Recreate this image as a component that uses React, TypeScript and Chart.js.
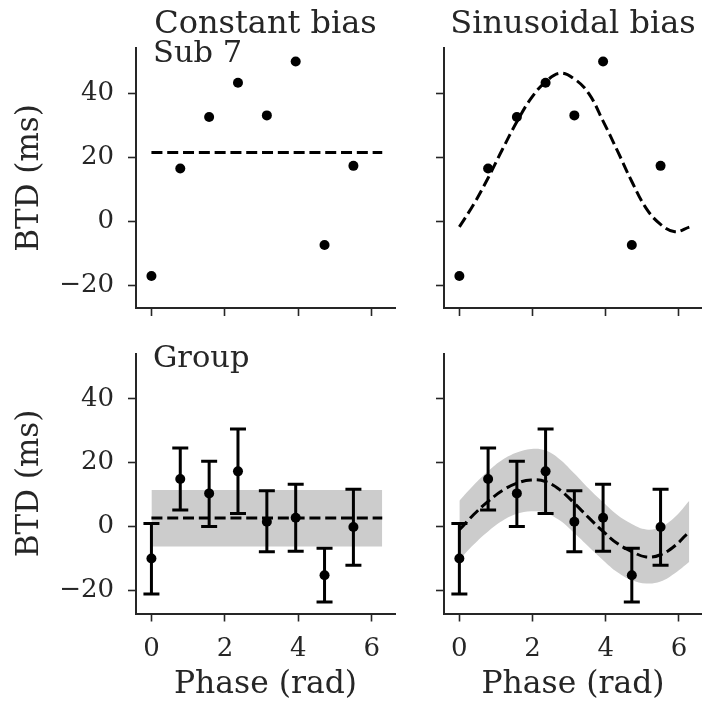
import React, { useEffect, useRef } from 'react';
import { Chart, registerables } from 'chart.js';

Chart.register(...registerables);

const FONT = '"DejaVu Serif", serif';
const TEXT = '#262626';

// Measured phases (rad) and BTD values (ms)
const phases = [0, 0.785, 1.571, 2.356, 3.142, 3.927, 4.712, 5.498];
const sub7Btd = [-17.2, 16.5, 32.6, 43.3, 33.1, 50.0, -7.5, 17.3];
const groupBtd = [-10.0, 14.9, 10.4, 17.3, 1.5, 2.8, -15.2, -0.1];
const groupErrHigh = [1.0, 24.6, 20.5, 30.6, 11.2, 13.3, -6.8, 11.7];
const groupErrLow = [-21.1, 5.2, 0.0, 4.1, -7.9, -7.7, -23.6, -12.1];

// Constant-bias fits
const constFitX = [0, 6.283];
const sub7ConstFit = [21.5, 21.5];
const groupConstFit = [2.7, 2.7];
const groupConstHigh = [11.5, 11.5];
const groupConstLow = [-6.2, -6.2];

// Sinusoidal-bias fits
const sineFitX = [0, 0.393, 0.785, 1.178, 1.571, 1.963, 2.356, 2.749, 3.142, 3.534, 3.927, 4.32, 4.712, 5.105, 5.498, 5.89, 6.283];
const sub7SineFit = [-1.8, 5.3, 13.5, 22.5, 31.1, 38.5, 43.6, 46.3, 44.5, 40.0, 31.3, 22.0, 12.4, 4.0, -1.0, -3.3, -1.9];
const groupSineFit = [-1.0, 3.8, 7.9, 11.3, 13.6, 14.6, 14.1, 11.5, 7.3, 2.8, -1.5, -5.3, -7.8, -9.5, -8.8, -6.0, -1.5];
const groupSineHigh = [8.1, 13.0, 17.3, 20.9, 23.2, 24.3, 23.8, 21.0, 16.6, 11.9, 7.6, 3.6, 0.8, -0.9, -0.2, 3.0, 8.1];
const groupSineLow = [-10.4, -5.6, -1.5, 1.8, 4.0, 4.8, 4.3, 1.9, -2.0, -6.3, -10.5, -14.3, -16.8, -17.8, -17.2, -14.6, -11.0];

const xTicks = [0, 2, 4, 6];
const xTickLabels = ['0', '2', '4', '6'];
const yTicks = [-20, 0, 20, 40];
const yTickLabels = ['\u221220', '0', '20', '40'];
const xRange = [-0.42, 6.63];
const yRange = [-27.2, 54.2];

const columnTitles = ['Constant bias', 'Sinusoidal bias'];
const rowLabels = ['Sub 7', 'Group'];
const xAxisLabel = 'Phase (rad)';
const yAxisLabel = 'BTD (ms)';

type PanelSpec = {
  key: string;
  left: number;
  top: number;
  width: number;
  height: number;
  pad: { left: number; top: number; right: number; bottom: number };
  yWidth: number;
  xHeight: number;
  showXLabels: boolean;
  showYLabels: boolean;
  title?: string;
  label?: string;
  pointsY: number[];
  errLow?: number[];
  errHigh?: number[];
  fitX: number[];
  fitY: number[];
  bandHigh?: number[];
  bandLow?: number[];
  tension: number;
};

const specs: PanelSpec[] = [
  {
    key: 'tl', left: 0, top: 0, width: 400, height: 330,
    pad: { left: 0, top: 48, right: 1, bottom: 0 }, yWidth: 136, xHeight: 22,
    showXLabels: false, showYLabels: true, title: columnTitles[0], label: rowLabels[0],
    pointsY: sub7Btd, fitX: constFitX, fitY: sub7ConstFit, tension: 0,
  },
  {
    key: 'tr', left: 400, top: 0, width: 307, height: 330,
    pad: { left: 0, top: 48, right: 0, bottom: 0 }, yWidth: 44, xHeight: 22,
    showXLabels: false, showYLabels: false, title: columnTitles[1],
    pointsY: sub7Btd, fitX: sineFitX, fitY: sub7SineFit, tension: 0.4,
  },
  {
    key: 'bl', left: 0, top: 330, width: 400, height: 374,
    pad: { left: 0, top: 23.5, right: 1, bottom: 0 }, yWidth: 136, xHeight: 90.5,
    showXLabels: true, showYLabels: true, label: rowLabels[1],
    pointsY: groupBtd, errLow: groupErrLow, errHigh: groupErrHigh,
    fitX: constFitX, fitY: groupConstFit, bandHigh: groupConstHigh, bandLow: groupConstLow, tension: 0,
  },
  {
    key: 'br', left: 400, top: 330, width: 307, height: 374,
    pad: { left: 0, top: 23.5, right: 0, bottom: 0 }, yWidth: 44, xHeight: 90.5,
    showXLabels: true, showYLabels: false,
    pointsY: groupBtd, errLow: groupErrLow, errHigh: groupErrHigh,
    fitX: sineFitX, fitY: groupSineFit, bandHigh: groupSineHigh, bandLow: groupSineLow, tension: 0.4,
  },
];

function xy(xs: number[], ys: number[]) {
  return xs.map((x, i) => ({ x, y: ys[i] }));
}

function buildConfig(s: PanelSpec): any {
  const datasets: any[] = [
    {
      label: 'data',
      data: xy(phases, s.pointsY),
      showLine: false,
      pointRadius: 5,
      pointHoverRadius: 5,
      pointBackgroundColor: '#000',
      pointBorderColor: '#000',
      pointBorderWidth: 0,
      order: 1,
    },
    {
      label: 'fit',
      data: xy(s.fitX, s.fitY),
      showLine: true,
      pointRadius: 0,
      borderColor: '#000',
      borderWidth: 3,
      borderDash: [11, 4.8],
      tension: s.tension,
      fill: false,
      order: 2,
    },
  ];
  if (s.bandHigh && s.bandLow) {
    datasets.push({
      label: 'bandHigh',
      data: xy(s.fitX, s.bandHigh),
      showLine: true,
      pointRadius: 0,
      borderWidth: 0,
      borderColor: 'rgba(0,0,0,0)',
      backgroundColor: '#cccccc',
      fill: '+1',
      tension: s.tension,
      order: 4,
    });
    datasets.push({
      label: 'bandLow',
      data: xy(s.fitX, s.bandLow),
      showLine: true,
      pointRadius: 0,
      borderWidth: 0,
      borderColor: 'rgba(0,0,0,0)',
      fill: false,
      tension: s.tension,
      order: 3,
    });
  }

  const panelPlugin = {
    id: 'panelDecor',
    beforeDatasetDraw(chart: any, args: any) {
      if (args.index !== 0 || !s.errLow || !s.errHigh) return;
      const { ctx } = chart;
      const xs = chart.scales.x;
      const ys = chart.scales.y;
      ctx.save();
      ctx.strokeStyle = '#000';
      ctx.lineWidth = 3;
      ctx.lineCap = 'butt';
      for (let i = 0; i < phases.length; i++) {
        const px = xs.getPixelForValue(phases[i]);
        const lo = ys.getPixelForValue(s.errLow[i]);
        const hi = ys.getPixelForValue(s.errHigh[i]);
        ctx.beginPath();
        ctx.moveTo(px, lo);
        ctx.lineTo(px, hi);
        ctx.moveTo(px - 8, lo);
        ctx.lineTo(px + 8, lo);
        ctx.moveTo(px - 8, hi);
        ctx.lineTo(px + 8, hi);
        ctx.stroke();
      }
      ctx.restore();
    },
    afterDraw(chart: any) {
      const { ctx, chartArea } = chart;
      ctx.save();
      ctx.fillStyle = TEXT;
      ctx.textBaseline = 'alphabetic';
      if (s.title) {
        ctx.font = `32px ${FONT}`;
        ctx.textAlign = 'center';
        ctx.fillText(s.title, (chartArea.left + chartArea.right) / 2, 33.3);
      }
      if (s.label) {
        ctx.font = `30.5px ${FONT}`;
        ctx.textAlign = 'left';
        ctx.fillText(s.label, chartArea.left + 17, chartArea.top + 13.5);
      }
      ctx.restore();
    },
  };

  return {
    type: 'scatter',
    data: { datasets },
    plugins: [panelPlugin],
    options: {
      animation: false,
      responsive: false,
      maintainAspectRatio: false,
      devicePixelRatio: 1,
      events: [],
      layout: { padding: s.pad },
      plugins: {
        legend: { display: false },
        tooltip: { enabled: false },
        title: { display: false },
      },
      scales: {
        x: {
          type: 'linear',
          position: 'bottom',
          min: xRange[0],
          max: xRange[1],
          afterBuildTicks: (sc: any) => {
            sc.ticks = xTicks.map((v) => ({ value: v }));
          },
          afterFit: (sc: any) => {
            sc.height = s.xHeight;
            sc.paddingLeft = 0;
            sc.paddingRight = 0;
            sc.paddingTop = 0;
            sc.paddingBottom = 0;
          },
          ticks: {
            autoSkip: false,
            maxRotation: 0,
            minRotation: 0,
            padding: 12,
            color: TEXT,
            font: { family: FONT, size: 26 },
            callback: (_v: any, i: number) => (s.showXLabels ? xTickLabels[i] : ''),
          },
          grid: {
            display: true,
            drawOnChartArea: false,
            drawTicks: true,
            tickLength: 8,
            tickWidth: 1.6,
            tickColor: TEXT,
            color: TEXT,
          },
          border: { display: true, color: TEXT, width: 2 },
          title: {
            display: s.showXLabels,
            text: xAxisLabel,
            color: TEXT,
            font: { family: FONT, size: 31.4 },
            padding: { top: 0, bottom: 0 },
          },
        },
        y: {
          type: 'linear',
          position: 'left',
          min: yRange[0],
          max: yRange[1],
          afterBuildTicks: (sc: any) => {
            sc.ticks = yTicks.map((v) => ({ value: v }));
          },
          afterFit: (sc: any) => {
            sc.width = s.yWidth;
            sc.paddingLeft = 0;
            sc.paddingRight = 0;
            sc.paddingTop = 0;
            sc.paddingBottom = 0;
          },
          ticks: {
            autoSkip: false,
            padding: 14,
            color: TEXT,
            font: { family: FONT, size: 26 },
            callback: (_v: any, i: number) => (s.showYLabels ? yTickLabels[i] : ''),
          },
          grid: {
            display: true,
            drawOnChartArea: false,
            drawTicks: true,
            tickLength: 8,
            tickWidth: 1.6,
            tickColor: TEXT,
            color: TEXT,
          },
          border: { display: true, color: TEXT, width: 2 },
          title: {
            display: s.showYLabels,
            text: yAxisLabel,
            color: TEXT,
            font: { family: FONT, size: 31 },
            padding: { top: 11, bottom: 0 },
          },
        },
      },
    },
  };
}

function Panel({ spec }: { spec: PanelSpec }) {
  const ref = useRef<HTMLCanvasElement | null>(null);
  useEffect(() => {
    if (!ref.current) return;
    const chart = new Chart(ref.current, buildConfig(spec));
    return () => chart.destroy();
  }, [spec]);
  return (
    <canvas
      ref={ref}
      width={spec.width}
      height={spec.height}
      style={{
        position: 'absolute',
        left: spec.left,
        top: spec.top,
        width: spec.width,
        height: spec.height,
        display: 'block',
      }}
    />
  );
}

export default function App() {
  return (
    <div
      style={{
        position: 'absolute',
        left: 0,
        top: 0,
        width: 702,
        height: 704,
        overflow: 'hidden',
        background: '#fff',
      }}
    >
      {specs.map((s) => (
        <Panel key={s.key} spec={s} />
      ))}
    </div>
  );
}
